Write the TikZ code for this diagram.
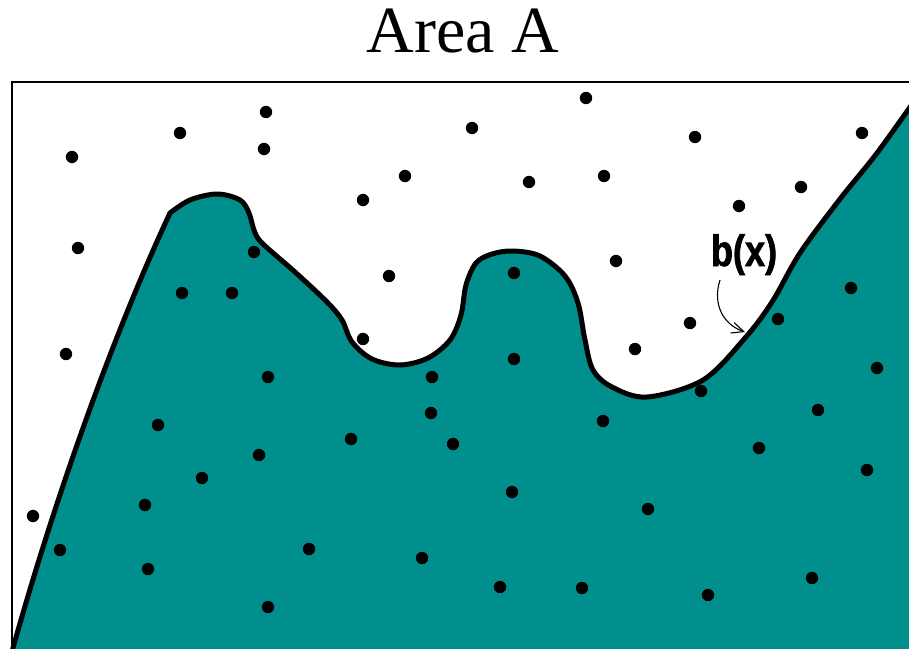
\documentclass[tikz,border=0pt]{standalone}
\usepackage{fontspec}
\setmainfont{Liberation Serif}
\newfontfamily\narrowbold[FakeStretch=0.82,FakeBold=1.6]{Liberation Sans Bold}
\usepackage{tikz}
\usetikzlibrary{arrows.meta,positioning,calc}
\definecolor{areateal}{RGB}{0,143,140}

\begin{document}
\begin{tikzpicture}[x=1pt,y=-1pt,>=Stealth,
  dot/.style={fill=black},
  boundary/.style={line width=5pt,line join=round,fill=areateal}]
\useasboundingbox (0,0) rectangle (909,648);
% region under b(x)
\draw[boundary] (10,662) -- (13,648) .. controls (60,480) and (120,320) .. (170,213)
  -- plot[smooth,tension=0.55] coordinates {(170,213) (190,200) (217,194) (240,200)
  (249,213) (254,230) (262,243) (295,272) (327,302) (342,320) (352,342) (372,359)
  (400,365) (428,358) (450,340) (461,315) (466,285) (476,263) (492,254) (513,251)
  (540,256) (565,276) (578,303) (585,340) (593,370) (612,387) (647,397) (703,380)
  (745,338) (772,302) (800,253) (840,199) (877,153) (915,100)}
  -- (925,662) -- cycle;
\draw[line width=1.6pt] (12,82) rectangle (925,662);
\node (title) at (463,31) {\fontsize{66}{70}\selectfont Area A};
% sample points
\foreach \p in {(72,157),(180,133),(266,112),(264,149),(586,98),(472,128),(695,137),
  (862,133),(405,176),(363,200),(529,182),(604,176),(739,206),(801,187),(78,248),
  (389,276),(616,261),(66,354),(690,323),(635,349),(33,516),
  (254,252),(182,293),(232,293),(363,339),(514,273),(514,359),(268,377),(432,377),
  (431,413),(453,444),(351,439),(158,425),(259,455),(202,478),(145,505),(60,550),
  (148,569),(268,607),(309,549),(422,558),(512,492),(500,587),(582,588),(708,595),
  (648,509),(603,421),(701,391),(778,319),(851,288),(877,368),(818,410),(759,448),
  (867,470),(812,578)}
  \fill[dot] \p circle (6.2);
\node[anchor=base] (bx) at (744,266) {\narrowbold\fontsize{44}{48}\selectfont b(x)};
\coordinate (btip) at (745,332);
\draw[line width=1.1pt,-{Straight Barb[length=12pt,width=11pt]}]
  ([xshift=-24pt,yshift=-14pt]bx.base) .. controls (712,305) and (724,325) .. (btip);
\end{tikzpicture}
\end{document}
